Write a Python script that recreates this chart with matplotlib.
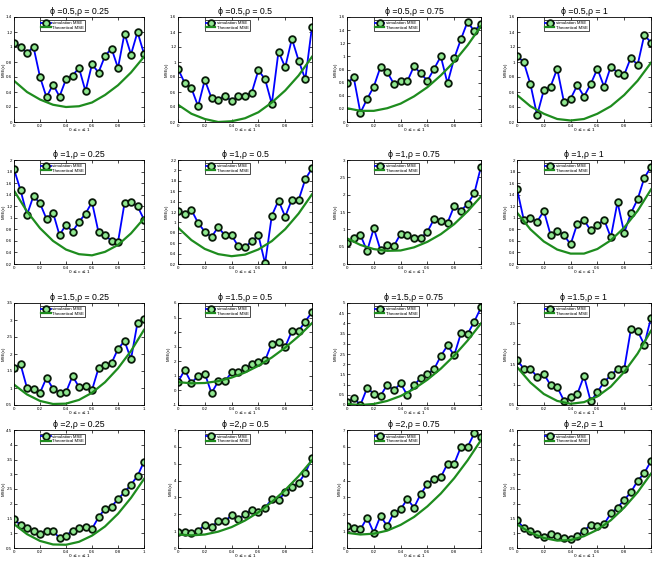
import numpy as np
import matplotlib
matplotlib.use("Agg")
from matplotlib import pyplot as plt

plt.rcParams['font.family'] = ['Liberation Sans', 'DejaVu Sans']
plt.rcParams['xtick.direction'] = 'in'
plt.rcParams['ytick.direction'] = 'in'
plt.rcParams['xtick.top'] = True
plt.rcParams['ytick.right'] = True

phis = ['0.5', '1', '1.5', '2']
rhos = ['0.25', '0.5', '0.75', '1']

# c grid of the simulation points and of the theoretical curve
c_sim = np.linspace(0, 1, 21)
c_theo = np.linspace(0, 1, 11)

sim_mse = [
    # phi = 0.5
    [1.06, 1.0, 0.92, 1.0, 0.6, 0.33, 0.5, 0.34, 0.57, 0.62, 0.72, 0.41, 0.77, 0.66, 0.88, 0.98, 0.72, 1.18, 0.9, 1.2, 0.91],
    [0.91, 0.72, 0.65, 0.41, 0.76, 0.52, 0.50, 0.55, 0.48, 0.55, 0.55, 0.59, 0.89, 0.77, 0.44, 1.14, 0.93, 1.31, 1.02, 0.77, 1.47],
    [0.59, 0.68, 0.14, 0.35, 0.54, 0.84, 0.76, 0.58, 0.62, 0.62, 0.85, 0.74, 0.63, 0.81, 1.0, 0.59, 0.97, 1.26, 1.53, 1.38, 1.50],
    [1.08, 1.0, 0.705, 0.29, 0.625, 0.67, 0.91, 0.47, 0.51, 0.69, 0.54, 0.705, 0.91, 0.67, 0.94, 0.86, 0.83, 1.06, 0.96, 1.36, 1.26],
    # phi = 1
    [1.84, 1.48, 1.05, 1.38, 1.25, 0.98, 1.09, 0.70, 0.88, 0.76, 0.93, 1.07, 1.27, 0.75, 0.70, 0.60, 0.58, 1.25, 1.27, 1.20, 0.97],
    [1.22, 1.17, 1.24, 0.99, 0.82, 0.72, 0.91, 0.75, 0.75, 0.54, 0.52, 0.64, 0.75, 0.21, 1.13, 1.42, 1.11, 1.44, 1.43, 1.83, 2.04],
    [0.60, 0.74, 0.84, 0.375, 1.03, 0.40, 0.55, 0.52, 0.87, 0.83, 0.74, 0.74, 0.93, 1.30, 1.24, 1.19, 1.67, 1.54, 1.73, 2.04, 2.81],
    [1.50, 0.97, 1.00, 0.93, 1.12, 0.71, 0.77, 0.70, 0.54, 0.90, 0.96, 0.78, 0.87, 0.97, 0.66, 1.27, 0.74, 1.08, 1.32, 1.69, 1.88],
    # phi = 1.5
    [1.59, 1.70, 1.0, 0.98, 0.86, 1.30, 0.98, 0.86, 0.875, 1.35, 1.03, 1.06, 0.94, 1.58, 1.68, 1.73, 2.15, 2.38, 1.85, 2.92, 3.02],
    [0.58, 1.40, 0.51, 1.0, 1.16, -0.18, 0.62, 0.62, 1.24, 1.24, 1.51, 1.78, 1.93, 2.07, 3.22, 3.33, 3.0, 4.07, 4.07, 4.73, 5.38],
    [0.13, 0.35, 0.0, 0.83, 0.56, 0.45, 0.99, 0.72, 1.06, 0.48, 0.96, 1.33, 1.51, 1.76, 2.40, 2.92, 2.44, 3.51, 3.48, 4.09, 4.78],
    [1.61, 1.39, 1.39, 1.19, 1.26, 0.99, 0.94, 0.61, 0.69, 0.77, 1.21, 0.59, 0.82, 1.06, 1.23, 1.38, 1.38, 2.36, 2.31, 1.98, 2.64],
    # phi = 2
    [1.48, 1.28, 1.18, 1.09, 0.99, 1.09, 1.09, 0.83, 0.92, 1.09, 1.18, 1.22, 1.15, 1.54, 1.83, 1.90, 2.16, 2.39, 2.65, 2.94, 3.43],
    [0.97, 0.97, 0.91, 1.02, 1.37, 1.25, 1.59, 1.59, 1.94, 1.71, 1.99, 2.28, 2.16, 2.39, 2.90, 2.85, 3.30, 3.59, 3.87, 4.44, 5.35],
    [1.3, 1.2, 1.1, 1.8, 0.9, 1.9, 1.3, 2.1, 2.3, 2.9, 2.4, 3.2, 3.8, 4.1, 4.2, 5.0, 5.0, 6.0, 6.0, 6.8, 6.6],
    [1.44, 1.18, 1.09, 0.99, 0.86, 0.99, 0.92, 0.83, 0.79, 0.92, 1.09, 1.28, 1.25, 1.31, 1.67, 1.87, 2.13, 2.39, 2.78, 3.04, 3.45],
]

theo_mse = [
    [0.55, 0.40, 0.30, 0.23, 0.20, 0.21, 0.26, 0.36, 0.49, 0.66, 0.87],
    [0.43, 0.31, 0.24, 0.20, 0.21, 0.25, 0.33, 0.46, 0.62, 0.82, 1.07],
    [0.21, 0.17, 0.17, 0.21, 0.28, 0.39, 0.53, 0.71, 0.92, 1.17, 1.46],
    [0.56, 0.41, 0.31, 0.24, 0.22, 0.24, 0.31, 0.41, 0.56, 0.75, 0.99],
    [1.47, 1.11, 0.82, 0.60, 0.45, 0.37, 0.35, 0.41, 0.53, 0.73, 0.99],
    [0.90, 0.66, 0.49, 0.39, 0.35, 0.38, 0.48, 0.64, 0.87, 1.17, 1.54],
    [0.74, 0.55, 0.43, 0.38, 0.39, 0.48, 0.64, 0.86, 1.15, 1.52, 1.95],
    [1.09, 0.80, 0.59, 0.45, 0.38, 0.38, 0.46, 0.61, 0.83, 1.12, 1.49],
    [1.10, 0.81, 0.62, 0.53, 0.54, 0.65, 0.86, 1.17, 1.58, 2.09, 2.71],
    [0.57, 0.49, 0.51, 0.64, 0.88, 1.23, 1.69, 2.26, 2.94, 3.72, 4.62],
    [0.05, 0.00, 0.05, 0.20, 0.44, 0.79, 1.24, 1.78, 2.42, 3.16, 4.00],
    [1.43, 1.05, 0.77, 0.60, 0.53, 0.57, 0.71, 0.95, 1.31, 1.76, 2.32],
    [1.31, 0.97, 0.74, 0.62, 0.61, 0.71, 0.92, 1.23, 1.66, 2.20, 2.84],
    [0.80, 0.75, 0.80, 0.97, 1.24, 1.63, 2.12, 2.73, 3.44, 4.26, 5.20],
    [0.90, 0.80, 0.85, 1.03, 1.37, 1.84, 2.47, 3.23, 4.14, 5.20, 6.40],
    [1.30, 1.02, 0.84, 0.75, 0.77, 0.90, 1.12, 1.44, 1.87, 2.39, 3.02],
]

y_limits = [
    (0, 1.4), (0.2, 1.6), (0, 1.6), (0.2, 1.6),
    (0.2, 2), (0.2, 2.2), (0, 3), (0.2, 2),
    (0.5, 3.5), (-1, 6), (0, 5), (0.5, 3),
    (0.5, 4.5), (0, 7), (0, 7), (0.5, 4.5),
]
y_steps = [0.2, 0.2, 0.2, 0.2,
           0.2, 0.2, 0.5, 0.2,
           0.5, 1, 0.5, 0.5,
           0.5, 1, 1, 0.5]

W, H = 657, 568
fig = plt.figure(figsize=(W / 100, H / 100), dpi=100)

col_left = [14, 178, 347, 517]
col_width = [130, 134, 134, 134]
row_top = [17, 160, 303, 430]
row_bottom = [122, 264, 405, 548]

for k in range(16):
    i, j = divmod(k, 4)
    ax = fig.add_axes([col_left[j] / W, 1 - row_bottom[i] / H,
                       col_width[j] / W, (row_bottom[i] - row_top[i]) / H])
    ax.plot(c_sim, sim_mse[k], '-o', color='#0000ff', lw=1.3,
            markersize=4.8, markerfacecolor='#90e890', markeredgecolor='#0a1a0a',
            markeredgewidth=1.3, label='simulation MSE')
    ax.plot(c_theo, theo_mse[k], '-', color='#1e8c1e', lw=1.6,
            label='Theoretical MSE')
    lo, hi = y_limits[k]
    ax.set_xlim(0, 1)
    ax.set_ylim(lo, hi)
    ax.set_yticks(np.arange(lo, hi + 1e-9, y_steps[k]))
    ax.set_yticklabels(['%g' % round(t, 2) for t in ax.get_yticks()])
    ax.set_xticks([0, 0.2, 0.4, 0.6, 0.8, 1])
    ax.set_xticklabels(['0', '0.2', '0.4', '0.6', '0.8', '1'])
    ax.tick_params(labelsize=3.2, length=2, width=0.5, pad=1.2)
    for s in ax.spines.values():
        s.set_linewidth(0.6)
    ax.set_title('ϕ =%s,ρ = %s' % (phis[i], rhos[j]), fontsize=6.3, pad=2.5)
    ax.set_xlabel('0 ≤ c ≤ 1', fontsize=3.2, labelpad=0.5, family=['DejaVu Sans'])
    ax.set_ylabel('MSE(c)', fontsize=3.2, labelpad=0.5 if j == 0 else 1)
    leg = ax.legend(loc='upper left', bbox_to_anchor=(0.2, 0.97), fontsize=3.2,
                    frameon=True, fancybox=False, framealpha=1, borderpad=0.2,
                    labelspacing=0.15, handlelength=2.2, handletextpad=0.3,
                    borderaxespad=0)
    leg.get_frame().set_edgecolor('black')
    leg.get_frame().set_linewidth(0.5)

fig.savefig('out.png', dpi=100)
